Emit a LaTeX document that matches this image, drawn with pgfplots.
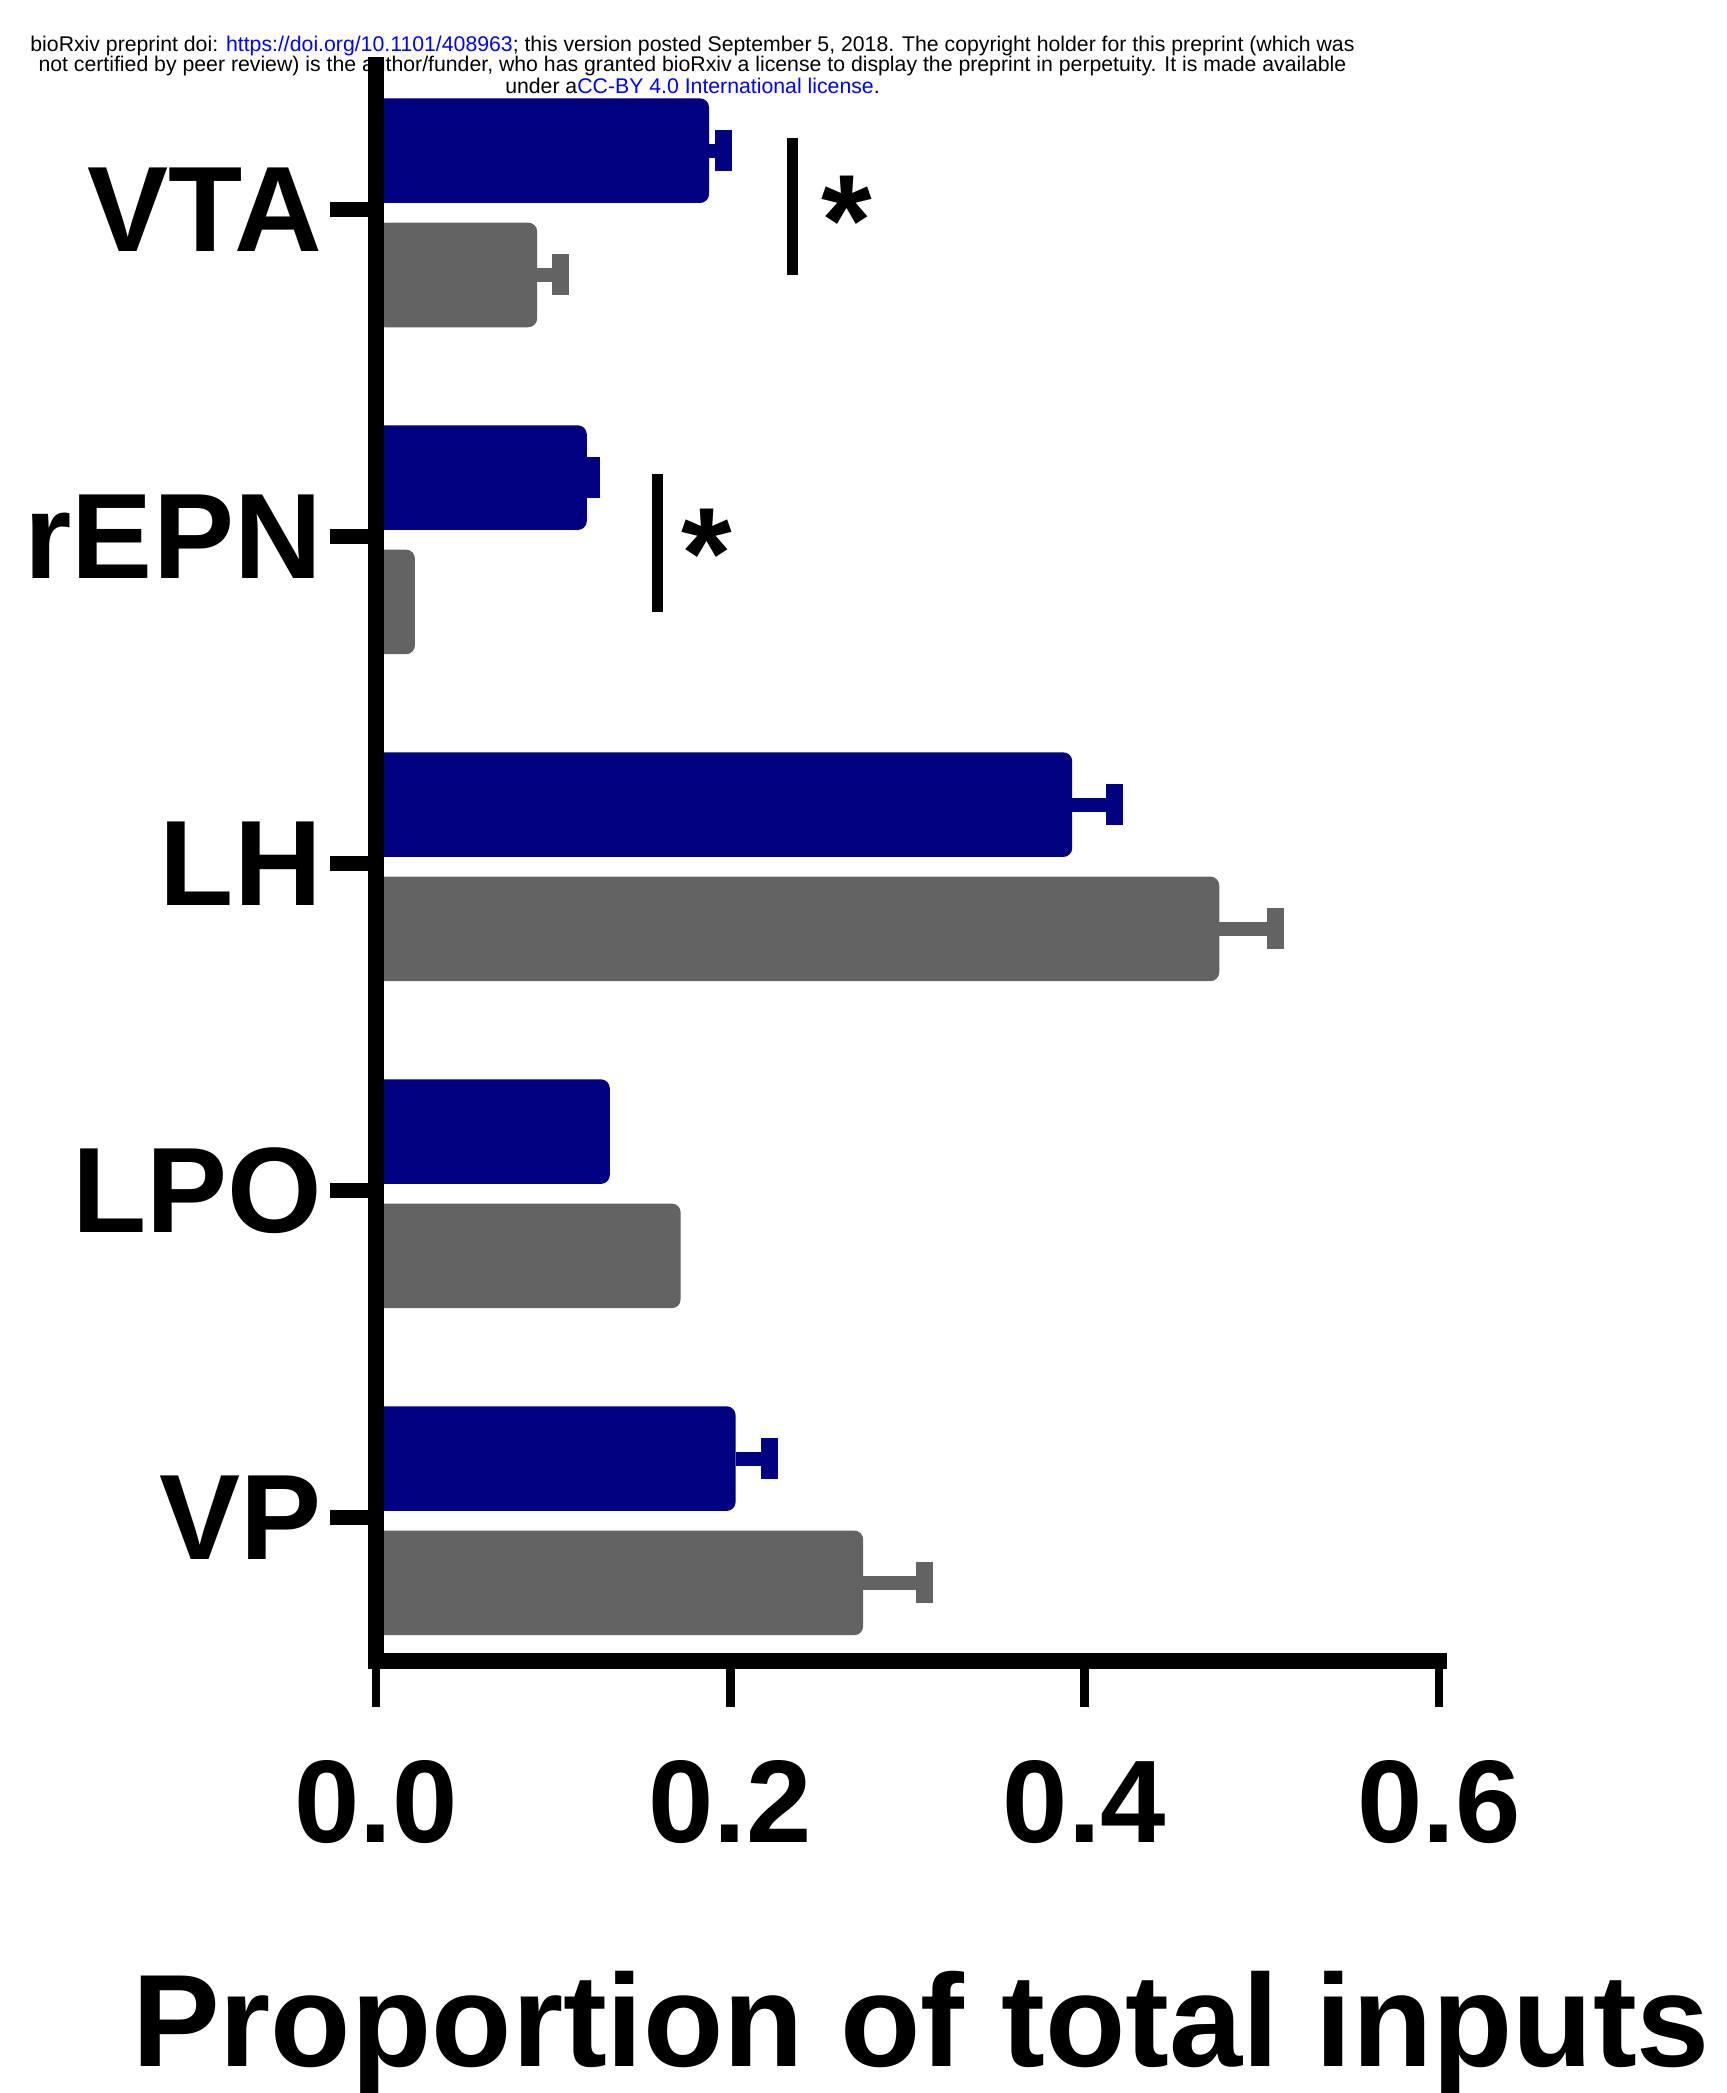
\documentclass[border=0pt]{standalone}
\usepackage{pgfplots}
\pgfplotsset{compat=1.18}
\usepackage{pgfplotstable}
\usepackage{fontspec}
\setmainfont{Liberation Sans}
\definecolor{navybar}{RGB}{0,0,128}
\definecolor{graybar}{RGB}{99,99,99}
\definecolor{linkblue}{RGB}{0,0,255}

% rows: VTA, rEPN, LH, LPO, VP
\pgfplotstableread{
y   x      err
4   0.188  0.008
3   0.119  0.0027
2   0.393  0.0238
1   0.132  0.000
0   0.203  0.0193
}\bluedata
\pgfplotstableread{
y   x      err
4   0.091  0.0133
3   0.022  0.000
2   0.476  0.032
1   0.172  0.000
0   0.275  0.0344
}\graydata

\begin{document}
\begin{tikzpicture}
\path[use as bounding box] (-75.2pt,-86.4pt) rectangle (270.2pt,332.2pt);
\begin{scope}[every node/.style={anchor=base, inner sep=0pt, font=\fontsize{4.25}{4.6}\selectfont}]
\node at (63.3pt,322pt) {bioRxiv preprint doi: \textcolor{linkblue}{https://doi.org/10.1101/408963}; this version posted September 5, 2018. The copyright holder for this preprint (which was};
\node at (63.3pt,317.8pt) {not certified by peer review) is the author/funder, who has granted bioRxiv a license to display the preprint in perpetuity. It is made available};
\node at (63.3pt,313.6pt) {under a\textcolor{linkblue}{CC-BY 4.0 International license}.};
\end{scope}
\begin{axis}[
  scale only axis, width=212.6pt, height=319.2pt,
  xmin=0, xmax=0.6, ymin=-0.439, ymax=4.442,
  axis x line=bottom, axis y line=left,
  axis line style={-, line width=3.2pt, line cap=rect},
  axis on top,
  bar width=0.32,
  xtick={0,0.2,0.4,0.6}, xticklabels={0.0,0.2,0.4,0.6},
  ytick={0,1,2,3,4}, yticklabels={VP,LPO,LH,rEPN,VTA},
  tick align=outside, major tick length=9.2pt, minor tick num=0,
  x tick style={line width=1.7pt, black},
  y tick style={line width=3pt, black},
  x tick label style={font=\fontsize{23.5}{28}\selectfont\bfseries, yshift=-7.1pt},
  y tick label style={font=\fontsize{24.3}{28}\selectfont\bfseries, xshift=1.9pt},
  xlabel={Proportion of total inputs},
  xlabel style={font=\fontsize{26.3}{30}\selectfont\bfseries, at={(axis description cs:0.5,0)}, anchor=base, yshift=-81pt, xshift=2.7pt, inner sep=0pt},
  clip=false,
]
% bars
\addplot[xbar, bar shift=0.18, fill=navybar, draw=none, rounded corners=1.8pt]
  table[x=x, y=y] {\bluedata};
\addplot[xbar, bar shift=-0.20, fill=graybar, draw=none, rounded corners=1.8pt]
  table[x=x, y=y] {\graydata};
% error bar stems (placed at the shifted bar positions)
\addplot[draw=none, mark=none, forget plot, skip coords between index={3}{4},
  error bars/.cd, x dir=plus, x explicit, error mark=none,
  error bar style={draw=navybar, line width=2.8pt}]
  table[x=x, y expr=\thisrow{y}+0.18, x error=err] {\bluedata};
\addplot[draw=none, mark=none, forget plot,
  skip coords between index={1}{2}, skip coords between index={3}{4},
  error bars/.cd, x dir=plus, x explicit, error mark=none,
  error bar style={draw=graybar, line width=2.8pt}]
  table[x=x, y expr=\thisrow{y}-0.20, x error=err] {\graydata};
% error bar caps
\addplot[only marks, mark=|, mark size=4.1pt, forget plot, skip coords between index={3}{4},
  mark options={draw=navybar, line width=3.4pt}]
  table[x expr=\thisrow{x}+\thisrow{err}, y expr=\thisrow{y}+0.18] {\bluedata};
\addplot[only marks, mark=|, mark size=4.1pt, forget plot,
  skip coords between index={1}{2}, skip coords between index={3}{4},
  mark options={draw=graybar, line width=3.4pt}]
  table[x expr=\thisrow{x}+\thisrow{err}, y expr=\thisrow{y}-0.20] {\graydata};
% significance markers
\addplot[black, line width=2.2pt, forget plot] coordinates {(0.235,4.219) (0.235,3.80)};
\addplot[black, line width=2.2pt, forget plot] coordinates {(0.159,3.19) (0.159,2.768)};
\node[anchor=north, inner sep=0pt, yshift=5.6pt, font=\fontsize{26}{30}\selectfont\bfseries] at (axis cs:0.266,4.02) {*};
\node[anchor=north, inner sep=0pt, yshift=5.6pt, font=\fontsize{26}{30}\selectfont\bfseries] at (axis cs:0.187,3.0) {*};
\end{axis}
\end{tikzpicture}
\end{document}
